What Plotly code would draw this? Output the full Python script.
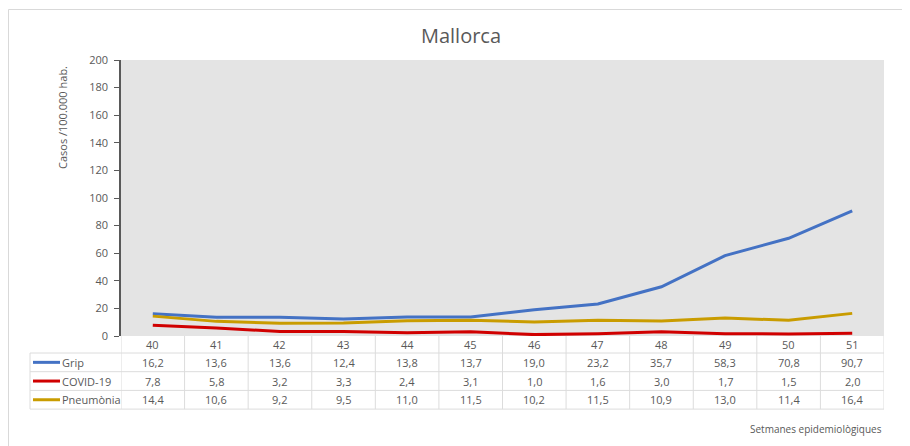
import plotly.graph_objects as go

weeks = ["40", "41", "42", "43", "44", "45", "46", "47", "48", "49", "50", "51"]
grip = [16.2, 13.6, 13.6, 12.4, 13.8, 13.7, 19.0, 23.2, 35.7, 58.3, 70.8, 90.7]
covid = [7.8, 5.8, 3.2, 3.3, 2.4, 3.1, 1.0, 1.6, 3.0, 1.7, 1.5, 2.0]
pneumonia = [14.4, 10.6, 9.2, 9.5, 11.0, 11.5, 10.2, 11.5, 10.9, 13.0, 11.4, 16.4]
series_names = ["Grip", "COVID-19", "Pneumònia"]
series_values = [grip, covid, pneumonia]
series_colors = ["#4472C4", "#D00000", "#C99C00"]
y_ticks = [0, 20, 40, 60, 80, 100, 120, 140, 160, 180, 200]

W, H = 910, 446
OFF = 8  # page body margin
# plot area in screen pixels
SX0, SX1, SY0, SY1 = 121, 884, 60, 336
L, R, T, B = SX0 - OFF, W - (SX1 - OFF), SY0 - OFF, H - (SY1 - OFF)
PW, PH = W - L - R, H - T - B
FONT = "Open Sans, Noto Sans, sans-serif"
TXT = "#595959"
GRID = "#DCDCDC"


def py(s):  # screen pixel y -> paper y
    return (SY1 - s) / PH


def px_x(s):  # screen pixel x -> paper x
    return (s - SX0) / PW


xs = list(range(len(weeks)))
fig = go.Figure()
for name, vals, col in zip(series_names, series_values, series_colors):
    fig.add_trace(go.Scatter(x=xs, y=vals, mode="lines", name=name,
                             line=dict(color=col, width=3), showlegend=False,
                             hoverinfo="skip"))

shapes = []
annotations = []

# outer frame
shapes.append(dict(type="rect", xref="paper", yref="paper",
                   x0=px_x(8.5), x1=px_x(930), y0=py(470), y1=py(9.5),
                   line=dict(color="#D9D9D9", width=1), fillcolor="rgba(0,0,0,0)", layer="below"))

# table geometry
header_bottom = 353
row_h = 18.7
row_lines = [header_bottom + i * row_h for i in range(len(series_names) + 1)]
table_left = 30
table_bottom = row_lines[-1]

for yl in row_lines:
    shapes.append(dict(type="line", xref="paper", yref="paper",
                       x0=px_x(table_left), x1=1, y0=py(yl), y1=py(yl),
                       line=dict(color=GRID, width=1)))
for i in range(len(weeks) + 1):
    shapes.append(dict(type="line", xref="x", yref="paper",
                       x0=i - 0.5, x1=i - 0.5, y0=0, y1=py(table_bottom),
                       line=dict(color=GRID, width=1)))
shapes.append(dict(type="line", xref="paper", yref="paper",
                   x0=px_x(table_left), x1=px_x(table_left), y0=py(header_bottom), y1=py(table_bottom),
                   line=dict(color=GRID, width=1)))

# header
for i, w in enumerate(weeks):
    annotations.append(dict(x=i, y=py((SY1 + header_bottom) / 2), xref="x", yref="paper",
                            xanchor="center", yanchor="middle",
                            text=w, showarrow=False, font=dict(family=FONT, size=11, color=TXT)))

# rows
for r, (name, vals, col) in enumerate(zip(series_names, series_values, series_colors)):
    yc = py(row_lines[r] + row_h / 2)
    shapes.append(dict(type="line", xref="paper", yref="paper",
                       x0=px_x(33), x1=px_x(60), y0=yc, y1=yc,
                       line=dict(color=col, width=3)))
    annotations.append(dict(x=px_x(60), y=yc, xref="paper", yref="paper",
                            xanchor="left", yanchor="middle",
                            text=name, showarrow=False, font=dict(family=FONT, size=11, color=TXT)))
    for i, v in enumerate(vals):
        annotations.append(dict(x=i, y=yc, xref="x", yref="paper",
                                xanchor="center", yanchor="middle",
                                text=f"{v:.1f}".replace(".", ","), showarrow=False,
                                font=dict(family=FONT, size=11, color=TXT)))

# y title
annotations.append(dict(x=px_x(62), y=py(117), xref="paper", yref="paper", textangle=-90,
                        xanchor="center", yanchor="middle",
                        text="Casos /100.000 hab.", showarrow=False,
                        font=dict(family=FONT, size=11, color=TXT)))
# footer
annotations.append(dict(x=px_x(884), y=py(429), xref="paper", yref="paper",
                        xanchor="right", yanchor="middle",
                        text="Setmanes epidemiològiques", showarrow=False,
                        font=dict(family=FONT, size=10, color=TXT)))

fig.update_layout(
    width=W, height=H,
    margin=dict(l=L, r=R, t=T, b=B, pad=0),
    paper_bgcolor="white", plot_bgcolor="#E4E4E4",
    title=dict(text="Mallorca", x=(461 - OFF) / W, xanchor="center",
               y=1 - (36 - OFF) / H, yanchor="middle",
               xref="container", yref="container",
               font=dict(family=FONT, size=20, color=TXT)),
    xaxis=dict(range=[-0.5, len(weeks) - 0.5], showticklabels=False, showgrid=False,
               zeroline=False, showline=False, ticks=""),
    yaxis=dict(range=[0, 200], tickvals=y_ticks, showgrid=False, zeroline=False,
               showline=True, linecolor="#595959", linewidth=1.5, ticks="outside",
               ticklen=5, tickcolor="#595959", ticklabelstandoff=4,
               tickfont=dict(family=FONT, size=11, color=TXT)),
    shapes=shapes, annotations=annotations,
)

fig.write_html("out.html")
